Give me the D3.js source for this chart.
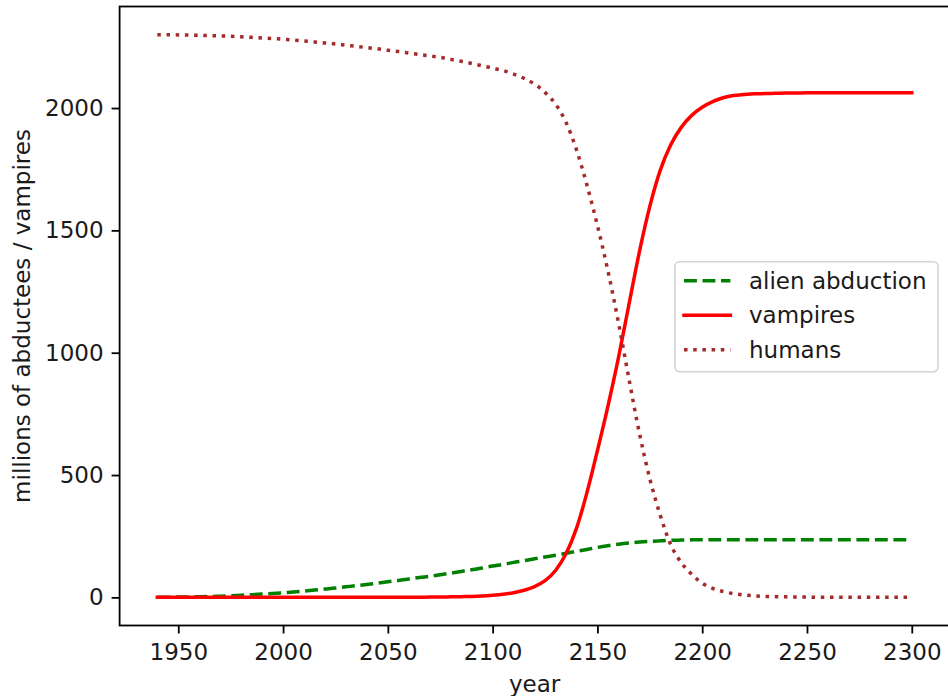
<!DOCTYPE html>
<html>
<head>
<meta charset="utf-8">
<script src="https://cdn.jsdelivr.net/npm/d3@7"></script>
<style>
body{margin:0;background:#fff;}
svg{display:block;font-family:"DejaVu Sans",sans-serif;}
</style>
</head>
<body>
<svg id="svg" width="948" height="696"></svg>
<script>
var years=[1940,1945,1950,1955,1960,1965,1970,1975,1980,1985,1990,1995,
    2000,2005,2010,2015,2020,2025,2030,2035,2040,2045,2050,2055,2060,2065,2070,2075,2080,2085,2090,2095,
    2100,2105,2110,2115,2120,2125,2130,2135,2140,2145,2150,2155,2160,2165,2170,2175,2180,2185,2190,2195,
    2200,2205,2210,2215,2220,2225,2230,2235,2240,2245,2250,2255,2260,2265,2270,2275,2280,2285,2290,2295,2300];

var aliens=[0,0,1,1.5,2.5,3.5,5,6.5,8.5,11,13.5,16,
    19,22,26,30,34,38,43,48,53,58,64,69,75,81,86,92,99,106,113,120,
    128,135,143,150,158,165,172,180,188,196,204,211,217,222,226,229,231,233,234,235,
    235,235,235,235,235,235,235,235,235,235,235,235,235,235,235,235,235,235,235,235,235];

var vampires=[0,0,0,0,0,0,0,0,0,0,0,0,
    0,0,0,0,0,0,0,0,0,0,0,0,0,0,1,1,2,3,4,6,
    9,13,19,29,44,68,110,178,282,428,600,781,978,1195,1411,1598,1746,1850,1921,1970,
    2003,2026,2042,2051,2055,2058,2059,2060,2061,2061,2062,2062,2062,2062,2062,2062,2062,2062,2062,2062,2062];

var humans=[2300,2300,2299,2298,2297,2296,2295,2293,2291,2289,2286,2284,
    2281,2278,2274,2270,2266,2262,2257,2252,2247,2242,2236,2231,2225,2219,2213,2207,2199,2191,2182,2173,
    2163,2153,2139,2121,2098,2064,2016,1942,1830,1685,1520,1335,1125,895,672,485,335,215,142,94,
    58,37,24,15,10,6,4,3,2,1,1,0,0,0,0,0,0,0,0,0,0];

var seriesNames=["alien abduction","vampires","humans"];
var xTicks=[1950,2000,2050,2100,2150,2200,2250,2300];
var yTicks=[0,500,1000,1500,2000];

var styles=[
    {color:"green",dash:"12.9,5.6",cap:"butt"},
    {color:"red",dash:null,cap:"square"},
    {color:"brown",dash:"3.5,5.7",cap:"butt"}
];
var fontSize=23;
var plotLeft=119.6,plotRight=949.5,plotTop=6.5,plotBottom=625.5;

var svg=d3.select("#svg");
svg.append("rect").attr("width",948).attr("height",696).attr("fill","#fff");

var x=d3.scaleLinear().domain([1922,2318]).range([plotLeft,plotRight]);
var y=d3.scaleLinear().domain([-115,2415]).range([plotBottom,plotTop]);

var series=[aliens,vampires,humans];

var line=d3.line()
    .x((d,i)=>x(years[i]))
    .y(d=>y(d))
    .curve(d3.curveMonotoneX);

svg.append("g").selectAll("path")
    .data(series).enter().append("path")
        .attr("d",d=>line(d))
        .attr("fill","none")
        .attr("stroke",(d,i)=>styles[i].color)
        .attr("stroke-width",3.5)
        .attr("stroke-dasharray",(d,i)=>styles[i].dash)
        .attr("stroke-linecap",(d,i)=>styles[i].cap)
        .attr("stroke-linejoin","round");

//axes
var xAxis=svg.append("g")
        .attr("transform","translate(0,"+plotBottom+")")
    .call(d3.axisBottom(x).tickValues(xTicks).tickFormat(d3.format("d")).tickSize(8).tickSizeOuter(0).tickPadding(10));
var yAxis=svg.append("g")
        .attr("transform","translate("+plotLeft+",0)")
    .call(d3.axisLeft(y).tickValues(yTicks).tickFormat(d3.format("d")).tickSize(8).tickSizeOuter(0).tickPadding(8));

[xAxis,yAxis].forEach(a=>{
    a.select(".domain").remove();
    a.selectAll("line").attr("stroke","#000").attr("stroke-width",1.8);
    a.selectAll("text").attr("fill","#1a1a1a").style("font-size",fontSize+"px").style("font-family","DejaVu Sans");
});

//frame
svg.append("rect")
    .attr("x",plotLeft).attr("y",plotTop)
    .attr("width",plotRight-plotLeft).attr("height",plotBottom-plotTop)
    .attr("fill","none").attr("stroke","#000").attr("stroke-width",1.8);

svg.append("text")
    .attr("x",(plotLeft+plotRight)/2).attr("y",692)
    .attr("text-anchor","middle")
    .style("font-size",fontSize+"px").attr("fill","#1a1a1a")
    .text("year");

svg.append("text")
    .attr("transform","translate(21.5,"+((plotTop+plotBottom)/2)+") rotate(-90)")
    .attr("text-anchor","middle")
    .attr("dy","0.35em")
    .style("font-size",fontSize+"px").attr("fill","#1a1a1a")
    .text("millions of abductees / vampires");

//legend
var legend=svg.append("g").attr("transform","translate(675,261.7)");
legend.append("rect")
    .attr("width",263).attr("height",110)
    .attr("rx",4.6).attr("ry",4.6)
    .attr("fill","#fff").attr("fill-opacity",0.8)
    .attr("stroke","#d4d4d4").attr("stroke-width",1.6);

var rows=legend.selectAll("g.row")
    .data(seriesNames).enter().append("g")
        .attr("class","row")
        .attr("transform",(d,i)=>"translate(0,"+(19+i*34.5)+")");
rows.append("line")
    .attr("x1",9).attr("x2",55.4)
    .attr("stroke",(d,i)=>styles[i].color)
    .attr("stroke-width",3.5)
    .attr("stroke-dasharray",(d,i)=>styles[i].dash)
    .attr("stroke-linecap",(d,i)=>styles[i].cap);
rows.append("text")
    .attr("x",74)
    .attr("dy","0.35em")
    .style("font-size",fontSize+"px").attr("fill","#1a1a1a")
    .text(d=>d);
</script>
</body>
</html>
